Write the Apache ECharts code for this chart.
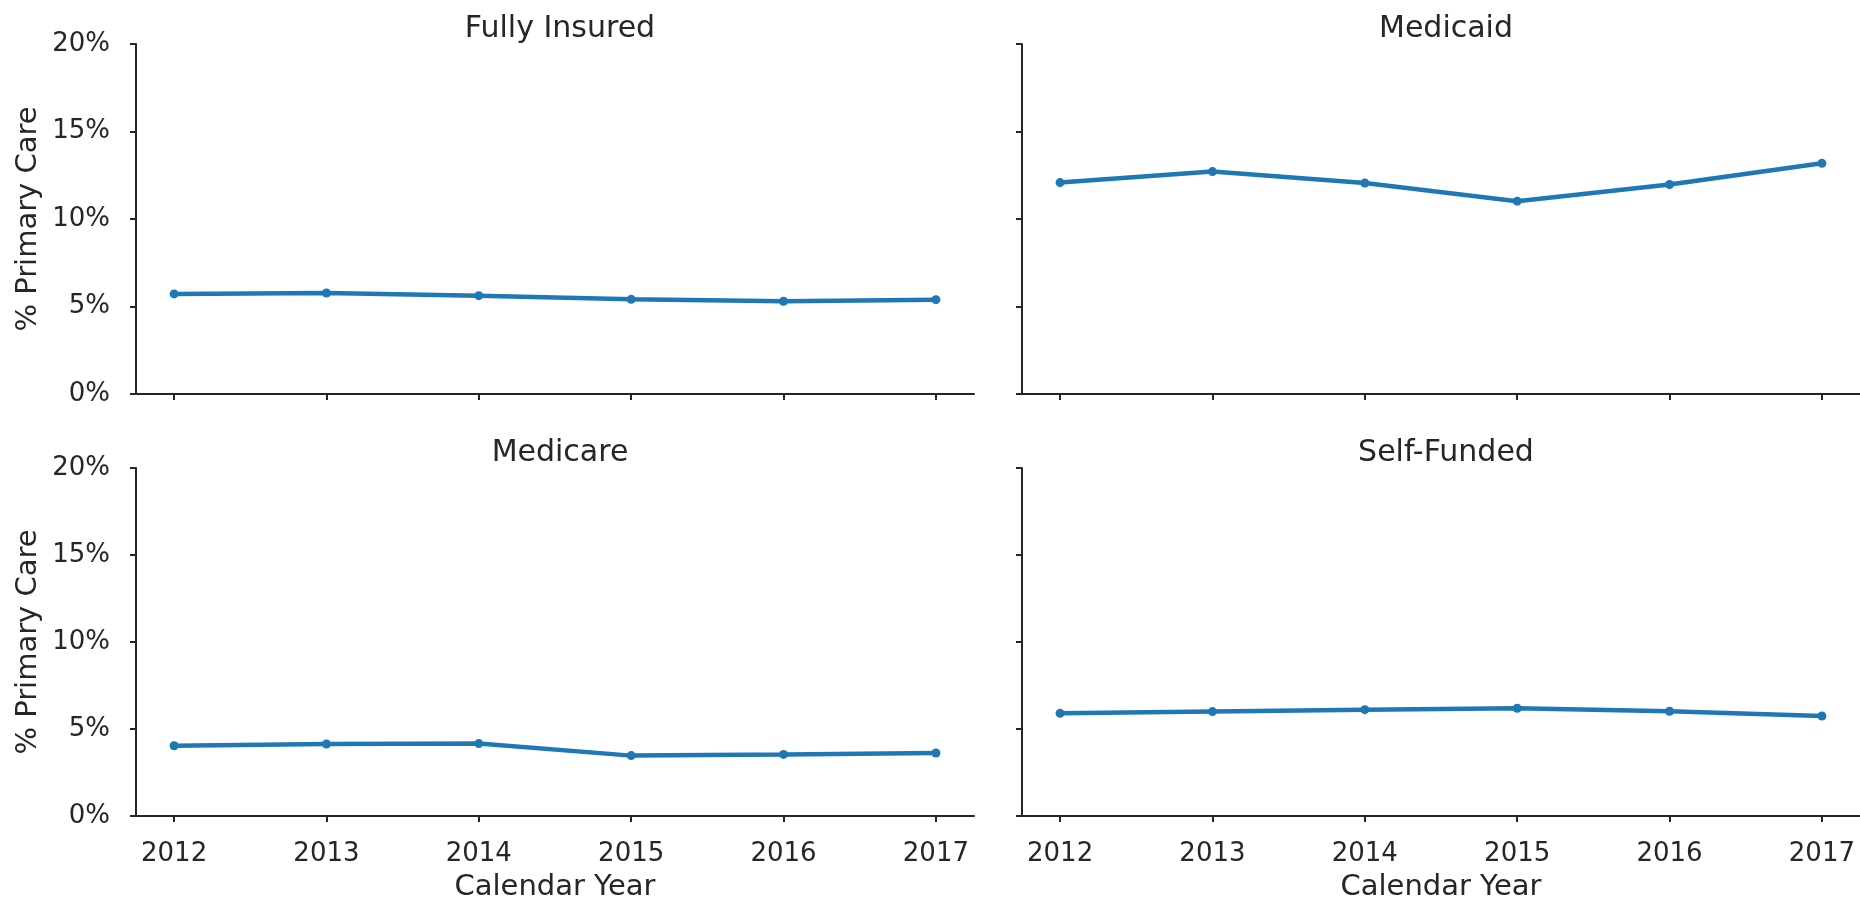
<!DOCTYPE html>
<html>
<head>
<meta charset="utf-8">
<script src="https://cdn.jsdelivr.net/npm/echarts@6/dist/echarts.min.js"></script>
<style>
  html, body { margin: 0; padding: 0; background: #fff; }
  #chart { width: 1860px; height: 900px; }
</style>
</head>
<body>
<div id="chart"></div>
<script>
// data
const years = [2012, 2013, 2014, 2015, 2016, 2017]
const panelTitles = ['Fully Insured', 'Medicaid', 'Medicare', 'Self-Funded']
const fullyInsured = [5.72, 5.77, 5.62, 5.41, 5.30, 5.39]
const medicaid = [12.08, 12.71, 12.06, 11.02, 11.97, 13.18]
const medicare = [4.04, 4.14, 4.16, 3.47, 3.54, 3.62]
const selfFunded = [5.90, 6.00, 6.11, 6.19, 6.02, 5.75]

const panelData = [fullyInsured, medicaid, medicare, selfFunded]
const ink = '#262626'
const font = 'DejaVu Sans'

// grid boxes: [left, top, width, height]
const boxes = [
  [136, 44, 838, 350],
  [1022, 44, 838, 350],
  [136, 468, 838, 348],
  [1022, 468, 838, 348]
]

const chartInstance = echarts.init(document.getElementById('chart'), null, { renderer: 'canvas' })

// outerBoundsMode none: keep the boxes exactly where they are put
const grids = boxes.map(b => ({
  left: b[0], top: b[1], width: b[2], height: b[3],
  containLabel: false,
  outerBoundsMode: 'none'
}))

const titles = boxes.map((b, i) => ({
  text: panelTitles[i],
  left: b[0] + b[2] / 2,
  top: b[1] - 35,
  textAlign: 'center',
  textStyle: { fontFamily: font, fontSize: 30, fontWeight: 'normal', color: ink }
}))

const xAxes = boxes.map((b, i) => ({
  gridIndex: i,
  type: 'value',
  min: 2011.75,
  max: 2017.25,
  name: i >= 2 ? 'Calendar Year' : '',
  nameLocation: 'middle',
  nameGap: 57,
  nameTextStyle: { fontFamily: font, fontSize: 29, color: ink },
  splitLine: { show: false },
  axisLine: { show: true, onZero: false, lineStyle: { color: ink, width: 2 } },
  axisTick: { show: true, length: 6, lineStyle: { color: ink, width: 2 }, customValues: years },
  axisLabel: {
    show: i >= 2,
    customValues: years,
    margin: 25,
    fontFamily: font,
    fontSize: 26,
    color: ink,
    formatter: v => String(v)
  }
}))

const yAxes = boxes.map((b, i) => ({
  gridIndex: i,
  type: 'value',
  min: 0,
  max: 20,
  interval: 5,
  name: i % 2 === 0 ? '% Primary Care' : '',
  nameLocation: 'middle',
  nameGap: 93,
  nameTextStyle: { fontFamily: font, fontSize: 29, color: ink },
  splitLine: { show: false },
  axisLine: { show: true, lineStyle: { color: ink, width: 2 } },
  axisTick: { show: true, length: 6, lineStyle: { color: ink, width: 2 } },
  axisLabel: {
    show: i % 2 === 0,
    margin: 26,
    fontFamily: font,
    fontSize: 26,
    color: ink,
    formatter: '{value}%'
  }
}))

const series = panelData.map((vals, i) => ({
  type: 'line',
  xAxisIndex: i,
  yAxisIndex: i,
  data: years.map((y, k) => [y, vals[k]]),
  symbol: 'circle',
  symbolSize: 9,
  showSymbol: true,
  itemStyle: { color: '#1f77b4' },
  lineStyle: { color: '#1f77b4', width: 4.5 },
  animation: false
}))

chartInstance.setOption({
  backgroundColor: '#fff',
  animation: false,
  title: titles,
  grid: grids,
  xAxis: xAxes,
  yAxis: yAxes,
  series: series
})
</script>
</body>
</html>
